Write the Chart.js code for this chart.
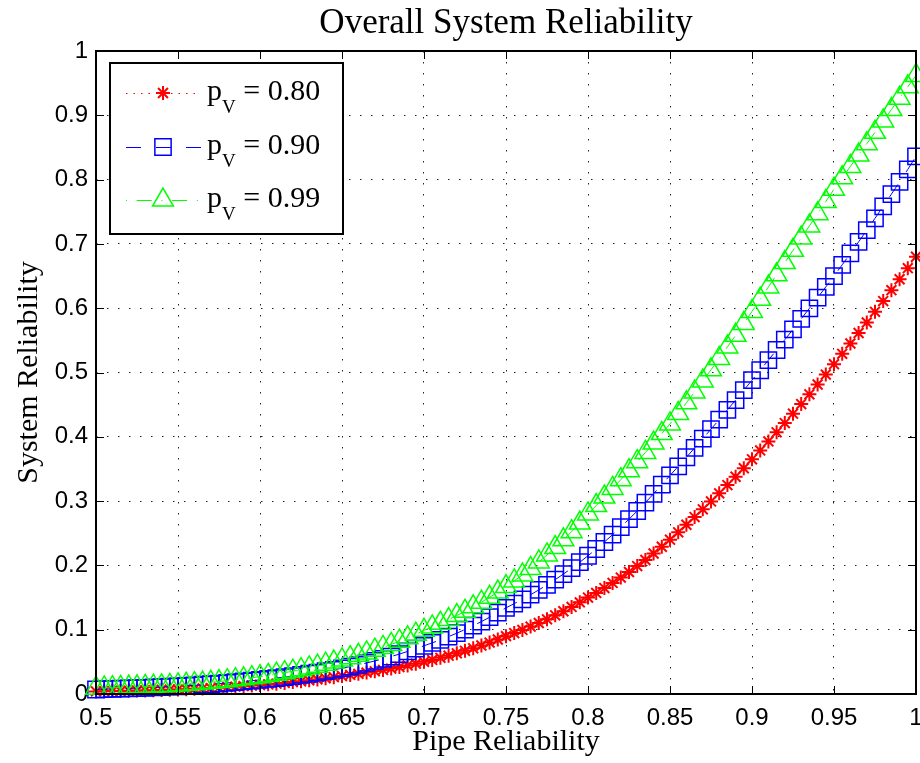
<!DOCTYPE html>
<html lang="en">
<head>
<meta charset="UTF-8">
<title>Overall System Reliability</title>
<script src="https://cdn.jsdelivr.net/npm/chart.js"></script>
<style>
  html, body { margin: 0; padding: 0; background: #fff; }
</style>
</head>
<body>
<canvas id="relChart" width="920" height="763"></canvas>
<script>
// pipe reliability (x axis), one point every 0.005
const pipeRel = [
  0.5, 0.505, 0.51, 0.515, 0.52, 0.525, 0.53, 0.535, 0.54, 0.545,
  0.55, 0.555, 0.56, 0.565, 0.57, 0.575, 0.58, 0.585, 0.59, 0.595,
  0.6, 0.605, 0.61, 0.615, 0.62, 0.625, 0.63, 0.635, 0.64, 0.645,
  0.65, 0.655, 0.66, 0.665, 0.67, 0.675, 0.68, 0.685, 0.69, 0.695,
  0.7, 0.705, 0.71, 0.715, 0.72, 0.725, 0.73, 0.735, 0.74, 0.745,
  0.75, 0.755, 0.76, 0.765, 0.77, 0.775, 0.78, 0.785, 0.79, 0.795,
  0.8, 0.805, 0.81, 0.815, 0.82, 0.825, 0.83, 0.835, 0.84, 0.845,
  0.85, 0.855, 0.86, 0.865, 0.87, 0.875, 0.88, 0.885, 0.89, 0.895,
  0.9, 0.905, 0.91, 0.915, 0.92, 0.925, 0.93, 0.935, 0.94, 0.945,
  0.95, 0.955, 0.96, 0.965, 0.97, 0.975, 0.98, 0.985, 0.99, 0.995,
  1
];

// system reliability for pV = 0.80
const sysRel080 = [
  0.004, 0.0042, 0.0045, 0.0047, 0.005, 0.0053, 0.0056, 0.0059, 0.0062, 0.0066,
  0.007, 0.0075, 0.008, 0.0086, 0.0092, 0.0099, 0.0106, 0.0114, 0.0122, 0.0131,
  0.014, 0.015, 0.0161, 0.0172, 0.0185, 0.0198, 0.0212, 0.0227, 0.0244, 0.0261,
  0.028, 0.0297, 0.0314, 0.0333, 0.0353, 0.0374, 0.0396, 0.042, 0.0445, 0.0472,
  0.05, 0.053, 0.0562, 0.0596, 0.0632, 0.0671, 0.0711, 0.0754, 0.08, 0.0848,
  0.09, 0.0947, 0.0997, 0.1049, 0.1104, 0.1162, 0.1223, 0.1287, 0.1354, 0.1425,
  0.15, 0.1572, 0.1648, 0.1727, 0.181, 0.1897, 0.1989, 0.2084, 0.2185, 0.229,
  0.24, 0.2515, 0.2632, 0.2751, 0.2872, 0.2995, 0.3121, 0.3249, 0.3379, 0.3511,
  0.365, 0.3788, 0.3928, 0.407, 0.4214, 0.436, 0.4509, 0.466, 0.4813, 0.4968,
  0.513, 0.529, 0.5451, 0.5614, 0.5778, 0.5944, 0.6111, 0.628, 0.645, 0.6622,
  0.68
];

// system reliability for pV = 0.90
const sysRel090 = [
  0.007, 0.0074, 0.0078, 0.0082, 0.0087, 0.0092, 0.0097, 0.0102, 0.0108, 0.0114,
  0.012, 0.0128, 0.0135, 0.0144, 0.0153, 0.0162, 0.0172, 0.0183, 0.0195, 0.0207,
  0.022, 0.0234, 0.0248, 0.0263, 0.0279, 0.0297, 0.0315, 0.0334, 0.0355, 0.0377,
  0.04, 0.0426, 0.0454, 0.0483, 0.0514, 0.0548, 0.0583, 0.0621, 0.0662, 0.0704,
  0.075, 0.0795, 0.0842, 0.0893, 0.0946, 0.1003, 0.1063, 0.1126, 0.1194, 0.1265,
  0.134, 0.1405, 0.1473, 0.1544, 0.1619, 0.1697, 0.1779, 0.1865, 0.1956, 0.205,
  0.215, 0.2255, 0.2364, 0.2478, 0.2596, 0.2719, 0.2846, 0.2978, 0.3114, 0.3255,
  0.34, 0.354, 0.3682, 0.3826, 0.3972, 0.4119, 0.4268, 0.4419, 0.4571, 0.4725,
  0.488, 0.5035, 0.5192, 0.535, 0.551, 0.5671, 0.5834, 0.5998, 0.6164, 0.6331,
  0.65, 0.6675, 0.6852, 0.7032, 0.7214, 0.7398, 0.7585, 0.7774, 0.7965, 0.8159,
  0.836
];

// system reliability for pV = 0.99
const sysRel099 = [
  0.009, 0.0094, 0.0098, 0.0103, 0.0107, 0.0112, 0.0117, 0.0122, 0.0128, 0.0134,
  0.014, 0.015, 0.016, 0.0171, 0.0182, 0.0194, 0.0208, 0.0222, 0.0237, 0.0253,
  0.027, 0.0289, 0.0309, 0.0331, 0.0354, 0.0378, 0.0405, 0.0433, 0.0463, 0.0496,
  0.053, 0.0564, 0.0601, 0.0639, 0.0681, 0.0725, 0.0771, 0.0821, 0.0874, 0.093,
  0.099, 0.1043, 0.1099, 0.1158, 0.122, 0.1286, 0.1355, 0.1428, 0.1504, 0.1585,
  0.167, 0.1759, 0.1852, 0.195, 0.2053, 0.2162, 0.2277, 0.2398, 0.2525, 0.2658,
  0.28, 0.293, 0.3062, 0.3196, 0.3333, 0.3472, 0.3613, 0.3756, 0.3902, 0.405,
  0.42, 0.4363, 0.4529, 0.4697, 0.4868, 0.5042, 0.5218, 0.5397, 0.5579, 0.5763,
  0.595, 0.614, 0.633, 0.652, 0.671, 0.69, 0.709, 0.728, 0.747, 0.766,
  0.785, 0.8027, 0.8204, 0.8381, 0.8558, 0.8735, 0.8912, 0.9089, 0.9266, 0.9443,
  0.962
];

const pvLabels = ['0.80', '0.90', '0.99'];

const xTicks = [0.5, 0.55, 0.6, 0.65, 0.7, 0.75, 0.8, 0.85, 0.9, 0.95, 1];
const xTickLabels = ['0.5', '0.55', '0.6', '0.65', '0.7', '0.75', '0.8', '0.85', '0.9', '0.95', '1'];
const yTicks = [0, 0.1, 0.2, 0.3, 0.4, 0.5, 0.6, 0.7, 0.8, 0.9, 1];
const yTickLabels = ['0', '0.1', '0.2', '0.3', '0.4', '0.5', '0.6', '0.7', '0.8', '0.9', '1'];

const SERIF = '"Liberation Serif", "Times New Roman", serif';
const SANS = '"Liberation Sans", Arial, sans-serif';

// line / marker style of each curve, reused by the legend
const styles = [
  { color: '#ff0000', dash: [1.5, 6], pointStyle: 'star', radius: 7, markerWidth: 2 },
  { color: '#0000ff', dash: [15, 15], pointStyle: 'rect', radius: 11.5, markerWidth: 1.5 },
  { color: '#00ff00', dash: [1, 9.7, 15, 9.7], pointStyle: 'triangle', radius: 12, markerWidth: 1.5 }
];
const series = [sysRel080, sysRel090, sysRel099];

const toPoints = ys => pipeRel.map((x, i) => ({ x: x, y: ys[i] }));

// box round the axes with inward ticks, title, axis labels and legend
const framePlugin = {
  id: 'frame',
  afterDraw(chart) {
    const ctx = chart.ctx;
    const a = chart.chartArea;
    const xs = chart.scales.x;
    const ys = chart.scales.y;
    ctx.save();

    // tick marks on all four sides
    ctx.strokeStyle = '#000';
    ctx.lineWidth = 1;
    ctx.beginPath();
    xTicks.forEach(v => {
      const px = Math.round(xs.getPixelForValue(v)) + 0.5;
      ctx.moveTo(px, a.bottom); ctx.lineTo(px, a.bottom - 8);
      ctx.moveTo(px, a.top); ctx.lineTo(px, a.top + 8);
    });
    yTicks.forEach(v => {
      const py = Math.round(ys.getPixelForValue(v)) + 0.5;
      ctx.moveTo(a.left, py); ctx.lineTo(a.left + 8, py);
      ctx.moveTo(a.right, py); ctx.lineTo(a.right - 8, py);
    });
    ctx.stroke();

    ctx.lineWidth = 2;
    ctx.strokeRect(a.left, a.top, a.right - a.left, a.bottom - a.top);

    // title and axis labels
    ctx.fillStyle = '#000';
    ctx.textAlign = 'center';
    ctx.textBaseline = 'alphabetic';
    ctx.font = '35px ' + SERIF;
    ctx.fillText('Overall System Reliability', (a.left + a.right) / 2, 33);
    ctx.font = '30px ' + SERIF;
    ctx.fillText('Pipe Reliability', (a.left + a.right) / 2, 750);
    ctx.save();
    ctx.translate(37, (a.top + a.bottom) / 2);
    ctx.rotate(-Math.PI / 2);
    ctx.fillText('System Reliability', 0, 0);
    ctx.restore();

    // legend
    const lx = 110, ly = 63, lw = 233, lh = 171;
    ctx.fillStyle = '#fff';
    ctx.fillRect(lx, ly, lw, lh);
    ctx.lineWidth = 2;
    ctx.strokeStyle = '#000';
    ctx.strokeRect(lx, ly, lw, lh);

    const rowsY = [93, 147, 200];
    styles.forEach((s, i) => {
      const y = rowsY[i];
      ctx.save();
      ctx.strokeStyle = s.color;
      ctx.lineWidth = 1;
      ctx.setLineDash(s.dash);
      ctx.beginPath();
      ctx.moveTo(126, y + 0.5);
      ctx.lineTo(201, y + 0.5);
      ctx.stroke();
      ctx.setLineDash([]);
      ctx.lineWidth = s.markerWidth;
      ctx.fillStyle = 'rgba(0,0,0,0)';
      Chart.helpers.drawPoint(ctx, {
        pointStyle: s.pointStyle, radius: s.radius, rotation: 0, borderWidth: s.markerWidth
      }, 163, y);
      ctx.restore();

      // p with subscript V
      const base = y + 7;
      ctx.fillStyle = '#000';
      ctx.textAlign = 'left';
      ctx.font = '30px ' + SERIF;
      let tx = 207;
      ctx.fillText('p', tx, base);
      tx += ctx.measureText('p').width;
      ctx.font = '19px ' + SERIF;
      ctx.fillText('V', tx, base + 13);
      tx += ctx.measureText('V').width;
      ctx.font = '30px ' + SERIF;
      ctx.fillText(' = ' + pvLabels[i], tx, base);
    });

    ctx.restore();
  }
};

const ctx = document.getElementById('relChart').getContext('2d');
new Chart(ctx, {
  type: 'line',
  data: {
    datasets: series.map((ys, i) => ({
      label: 'pV = ' + pvLabels[i],
      data: toPoints(ys),
      borderColor: styles[i].color,
      borderWidth: 1,
      borderDash: styles[i].dash,
      pointStyle: styles[i].pointStyle,
      pointRadius: styles[i].radius,
      pointHoverRadius: styles[i].radius,
      pointBorderColor: styles[i].color,
      pointBackgroundColor: 'rgba(0,0,0,0)',
      pointBorderWidth: styles[i].markerWidth,
      fill: false,
      tension: 0,
      clip: false,
      order: 3 - i
    }))
  },
  options: {
    responsive: false,
    devicePixelRatio: 1,
    animation: false,
    events: [],
    layout: { autoPadding: false, padding: { top: 51, right: 4, left: 0, bottom: 0 } },
    plugins: {
      legend: { display: false },
      tooltip: { enabled: false },
      title: { display: false }
    },
    scales: {
      x: {
        type: 'linear',
        min: 0.5,
        max: 1,
        afterBuildTicks: s => { s.ticks = xTicks.map(v => ({ value: v })); },
        afterFit: s => { s.height = 69; s.paddingLeft = 0; s.paddingRight = 0; },
        ticks: {
          callback: (v, i) => xTickLabels[i],
          autoSkip: false,
          maxRotation: 0,
          padding: 10,
          color: '#000',
          font: { family: SANS, size: 24 }
        },
        grid: { color: '#222', lineWidth: 1, drawTicks: false },
        border: { display: false, dash: [1.5, 9.5] }
      },
      y: {
        type: 'linear',
        min: 0,
        max: 1,
        afterBuildTicks: s => { s.ticks = yTicks.map(v => ({ value: v })); },
        afterFit: s => { s.width = 96; s.paddingTop = 0; s.paddingBottom = 0; },
        ticks: {
          callback: (v, i) => yTickLabels[i],
          autoSkip: false,
          padding: 8,
          color: '#000',
          font: { family: SANS, size: 24 }
        },
        grid: { color: '#222', lineWidth: 1, drawTicks: false },
        border: { display: false, dash: [1.5, 9.5] }
      }
    }
  },
  plugins: [framePlugin]
});
</script>
</body>
</html>
